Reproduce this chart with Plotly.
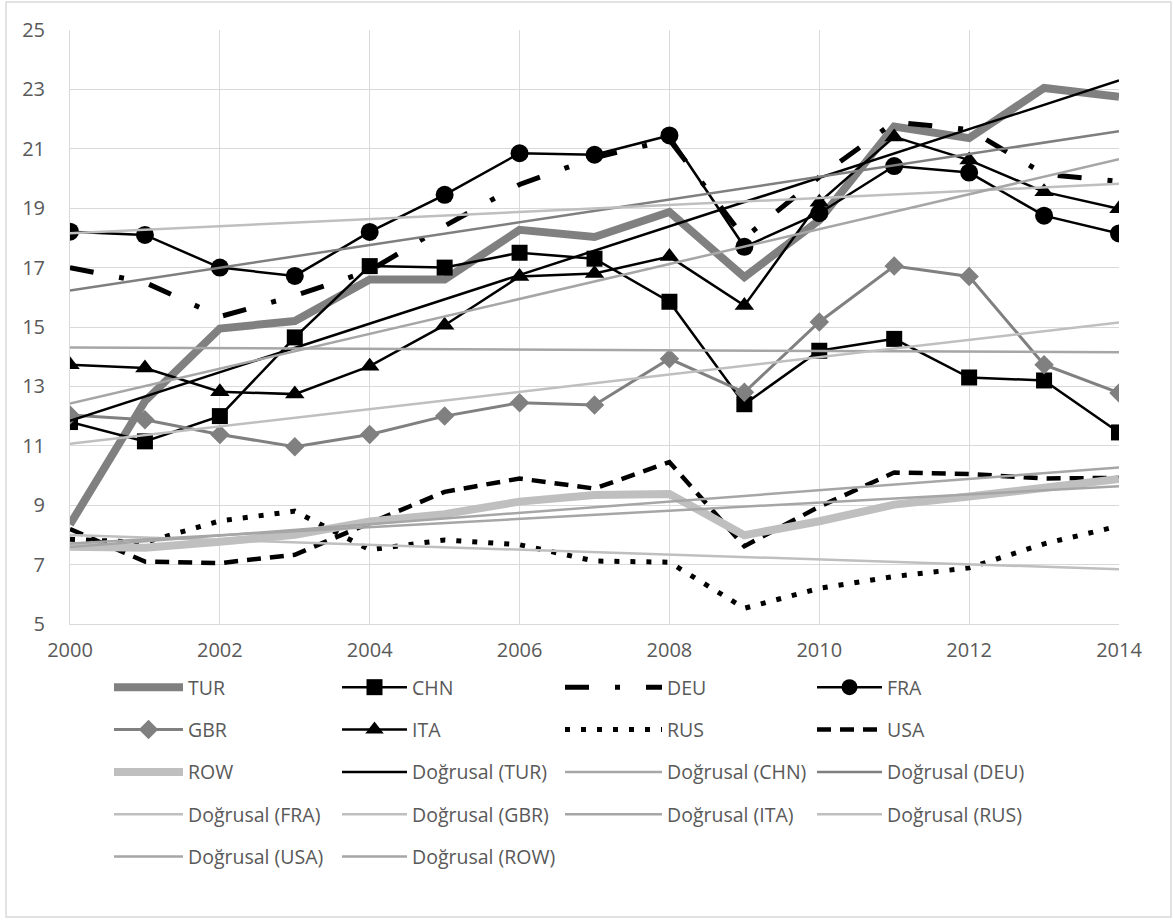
import numpy as np
import plotly.graph_objects as go

years = list(range(2000, 2015))
tick_years = [2000, 2002, 2004, 2006, 2008, 2010, 2012, 2014]
y_ticks = [5, 7, 9, 11, 13, 15, 17, 19, 21, 23, 25]

TUR = [8.35, 12.5, 14.95, 15.2, 16.6, 16.6, 18.27, 18.03, 18.87, 16.68, 18.6, 21.75, 21.36, 23.05, 22.75]
CHN = [11.8, 11.15, 12.0, 14.65, 17.05, 17.0, 17.5, 17.3, 15.85, 12.4, 14.2, 14.6, 13.3, 13.2, 11.45]
DEU = [17.0, 16.5, 15.35, 16.05, 16.9, 18.4, 19.8, 20.7, 21.3, 18.0, 20.05, 21.9, 21.65, 20.15, 19.9]
FRA = [18.21, 18.1, 17.0, 16.72, 18.2, 19.45, 20.85, 20.8, 21.45, 17.7, 18.83, 20.42, 20.2, 18.75, 18.15]
GBR = [12.04, 11.88, 11.38, 10.97, 11.38, 12.0, 12.45, 12.37, 13.93, 12.8, 15.17, 17.05, 16.7, 13.73, 12.78]
ITA = [13.73, 13.62, 12.82, 12.74, 13.68, 15.06, 16.7, 16.8, 17.37, 15.72, 19.2, 21.4, 20.62, 19.55, 18.98]
RUS = [7.85, 7.75, 8.47, 8.8, 7.5, 7.83, 7.67, 7.12, 7.08, 5.53, 6.2, 6.6, 6.89, 7.7, 8.3]
USA = [8.2, 7.1, 7.05, 7.33, 8.4, 9.45, 9.9, 9.56, 10.45, 7.62, 8.95, 10.1, 10.05, 9.9, 9.92]
ROW = [7.6, 7.57, 7.77, 8.0, 8.45, 8.7, 9.12, 9.34, 9.38, 7.99, 8.46, 9.02, 9.29, 9.57, 9.88]

# Plot-area geometry (pixels) used to place paper-referenced items
W, H = 1173, 923
L, R, T, B = 70, 54, 30, 299
pw, ph = W - L - R, H - T - B


def px_x(px):
    return (px - L) / pw


def px_y(py):
    return (H - B - py) / ph


TXT = "#595959"
FONT = "Open Sans"

series = [
    ("TUR", TUR, dict(color="#808080", width=8), None, "legend"),
    ("CHN", CHN, dict(color="black", width=2.5), dict(symbol="square", size=16, color="black"), "legend2"),
    ("DEU", DEU, dict(color="black", width=5, dash="24px,26px,5px,26px"), None, "legend3"),
    ("FRA", FRA, dict(color="black", width=2.5), dict(symbol="circle", size=18, color="black"), "legend4"),
    ("GBR", GBR, dict(color="#808080", width=3), dict(symbol="diamond", size=15, color="#808080"), "legend"),
    ("ITA", ITA, dict(color="black", width=2.5), dict(symbol="triangle-up", size=17, color="black"), "legend2"),
    ("RUS", RUS, dict(color="black", width=5, dash="5px,11px"), None, "legend3"),
    ("USA", USA, dict(color="black", width=4.5, dash="14px,9px"), None, "legend4"),
    ("ROW", ROW, dict(color="#bfbfbf", width=8), None, "legend"),
]

trend_style = [
    ("TUR", TUR, "black", "legend2"),
    ("CHN", CHN, "#a6a6a6", "legend3"),
    ("DEU", DEU, "#7f7f7f", "legend4"),
    ("FRA", FRA, "#bfbfbf", "legend"),
    ("GBR", GBR, "#bfbfbf", "legend2"),
    ("ITA", ITA, "#a6a6a6", "legend3"),
    ("RUS", RUS, "#bfbfbf", "legend4"),
    ("USA", USA, "#a6a6a6", "legend"),
    ("ROW", ROW, "#a6a6a6", "legend2"),
]

fig = go.Figure()
for i, (name, vals, line, marker, lg) in enumerate(series):
    fig.add_trace(go.Scatter(
        x=years, y=vals, name=name,
        mode="lines+markers" if marker else "lines",
        line=line, marker=marker, legend=lg, legendgroup=name,
    ))

xs = np.array(years, dtype=float)
for name, vals, color, lg in trend_style:
    k, b = np.polyfit(xs, np.array(vals), 1)
    fig.add_trace(go.Scatter(
        x=years, y=list(k * xs + b), name=f"Doğrusal ({name})",
        mode="lines", line=dict(color=color, width=2.5),
        legend=lg, legendgroup="t" + name,
    ))

row1 = 685
leg_common = dict(
    orientation="v", yanchor="top", y=px_y(row1 - 17), xanchor="left",
    font=dict(family=FONT, size=19.5, color=TXT), bgcolor="rgba(0,0,0,0)",
    tracegroupgap=14, borderwidth=0,
)
col_x = [109, 337, 560, 812]
col_w = [69, 65, 97, 65]
legends = {}
for j, (cx, cw) in enumerate(zip(col_x, col_w)):
    key = "legend" if j == 0 else f"legend{j + 1}"
    legends[key] = dict(leg_common, x=px_x(cx), itemwidth=cw)

fig.update_layout(
    width=W, height=H,
    margin=dict(l=L, r=R, t=T, b=B, autoexpand=False),
    paper_bgcolor="white", plot_bgcolor="white",
    font=dict(family=FONT, size=20, color=TXT),
    showlegend=True,
    **legends,
    xaxis=dict(
        range=[2000, 2014], tickvals=tick_years, ticktext=[str(t) for t in tick_years],
        showgrid=True, gridcolor="#d9d9d9", gridwidth=1,
        showline=True, linecolor="#d9d9d9", linewidth=1, mirror=False,
        zeroline=False, ticks="", ticklabelstandoff=8,
        tickfont=dict(family=FONT, size=20, color=TXT),
    ),
    yaxis=dict(
        range=[5, 25], tickvals=y_ticks,
        showgrid=True, gridcolor="#d9d9d9", gridwidth=1,
        showline=True, linecolor="#d9d9d9", linewidth=1,
        zeroline=False, ticks="", ticklabelstandoff=20,
        tickfont=dict(family=FONT, size=20, color=TXT),
    ),
    shapes=[dict(
        type="rect", xref="paper", yref="paper",
        x0=px_x(6), x1=px_x(1171), y0=px_y(917), y1=px_y(2),
        line=dict(color="#d9d9d9", width=1.5), fillcolor="rgba(0,0,0,0)", layer="below",
    )],
)

fig.write_html(
    "out.html",
    config={"displayModeBar": False},
    post_script="document.body.style.margin='0';",
)
